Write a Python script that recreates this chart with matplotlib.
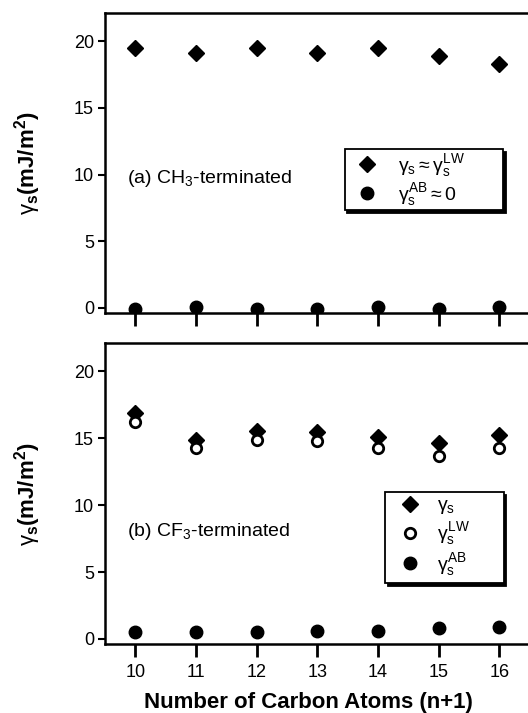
import numpy as np
import matplotlib.pyplot as plt

plt.rcParams['font.family'] = ['Liberation Sans', 'DejaVu Sans']
plt.rcParams['mathtext.fontset'] = 'custom'
plt.rcParams['mathtext.rm'] = 'Liberation Sans'
plt.rcParams['mathtext.it'] = 'Liberation Sans'
plt.rcParams['mathtext.bf'] = 'Liberation Sans:bold'

# Data
carbons = [10, 11, 12, 13, 14, 15, 16]
# (a) CH3-terminated
ch3_total = [19.47, 19.12, 19.52, 19.12, 19.47, 18.92, 18.3]
ch3_ab = [-0.05, 0.1, -0.05, -0.05, 0.1, -0.05, 0.1]
# (b) CF3-terminated
cf3_total = [16.88, 14.89, 15.56, 15.44, 15.06, 14.64, 15.26]
cf3_lw = [16.18, 14.26, 14.89, 14.76, 14.26, 13.64, 14.26]
cf3_ab = [0.5, 0.5, 0.5, 0.6, 0.6, 0.85, 0.87]
yticks = [0, 5, 10, 15, 20]

fig = plt.figure(figsize=(5.28, 7.13), dpi=100)
ax1 = fig.add_axes([0.199, 0.5606, 0.81, 0.4207])
ax2 = fig.add_axes([0.199, 0.0964, 0.81, 0.4221])

ylab = r'$\gamma_\mathregular{s}$(mJ/m$^\mathregular{2}$)'

for ax in (ax1, ax2):
    ax.set_xlim(9.5, 16.55)
    ax.set_ylim(-0.4, 22.1)
    ax.set_yticks(yticks)
    ax.set_xticks(carbons)
    for s in ('left', 'bottom', 'top'):
        ax.spines[s].set_linewidth(1.8)
    ax.spines['right'].set_visible(False)
    ax.tick_params(axis='y', direction='out', length=5, width=1.5, labelsize=13, pad=3)
    ax.tick_params(axis='x', direction='out', length=9, width=2, labelsize=13, pad=5)
    ax.set_ylabel(ylab, fontsize=16, fontweight='bold', labelpad=22)

ax1.tick_params(axis='x', labelbottom=False)

shadow = {'color': 'black', 'alpha': 1}

# top panel
ax1.plot(carbons, ch3_total, 'D', color='black', markersize=8.5, label=r'$\gamma_\mathregular{s} \approx \gamma_\mathregular{s}^\mathregular{LW}$')
ax1.plot(carbons, ch3_ab, 'o', color='black', markersize=9, label=r'$\gamma_\mathregular{s}^\mathregular{AB} \approx \mathregular{0}$')
ax1.text(9.86, 9.72, r'(a) CH$_\mathregular{3}$-terminated', fontsize=14, va='center')
leg1 = ax1.legend(loc='upper left', bbox_to_anchor=(0.56, 0.548, 0.371, 0), mode='expand',
                  borderaxespad=0, fancybox=False, edgecolor='black', shadow=shadow,
                  fontsize=14, handletextpad=0.6, borderpad=0.15, labelspacing=0.1)
leg1.get_frame().set_linewidth(1.3)

# bottom panel
ax2.plot(carbons, cf3_total, 'D', color='black', markersize=8.5, label=r'$\gamma_\mathregular{s}$')
ax2.plot(carbons, cf3_lw, 'o', markerfacecolor='white', markeredgecolor='black',
         markeredgewidth=2, markersize=7.5, label=r'$\gamma_\mathregular{s}^\mathregular{LW}$')
ax2.plot(carbons, cf3_ab, 'o', color='black', markersize=9, label=r'$\gamma_\mathregular{s}^\mathregular{AB}$')
ax2.text(9.86, 8.0, r'(b) CF$_\mathregular{3}$-terminated', fontsize=14, va='center')
leg2 = ax2.legend(loc='upper left', bbox_to_anchor=(0.655, 0.506, 0.277, 0), mode='expand',
                  borderaxespad=0, fancybox=False, edgecolor='black', shadow=shadow,
                  fontsize=14, handletextpad=0.4, borderpad=0.25, labelspacing=0.2)
leg2.get_frame().set_linewidth(1.3)

ax2.set_xlabel('Number of Carbon Atoms (n+1)', fontsize=16, fontweight='bold', labelpad=8)
ax2.xaxis.label.set_x(0.475)

fig.savefig('out.png', dpi=100)
plt.close()
